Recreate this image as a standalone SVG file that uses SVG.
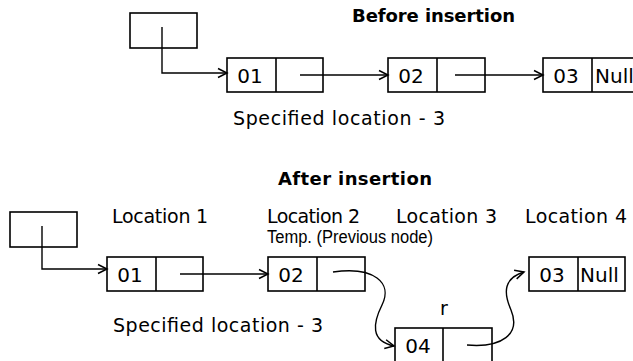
<svg xmlns="http://www.w3.org/2000/svg" width="633" height="361" viewBox="0 0 633 361">
  <style>
    .box { fill: #fff; stroke: #000; stroke-width: 1.6; }
    .div { stroke: #000; stroke-width: 1.6; }
    .con { fill: none; stroke: #000; stroke-width: 1.4; }
    text { font-family: "DejaVu Sans", "Liberation Sans", sans-serif; font-size: 19px; fill: #000; }
    .title { font-weight: bold; font-size: 18px; }
    .nd { font-size: 20px; }
    .mid { text-anchor: middle; }
    .tmp { font-family: "Liberation Sans", "DejaVu Sans", sans-serif; font-size: 18px; }
  </style>
  <defs>
    <marker id="arr" markerUnits="userSpaceOnUse" markerWidth="12" markerHeight="12" refX="10" refY="5" orient="auto" viewBox="0 0 12 10">
      <path d="M1,0.5 L10,5 L1,9.5" fill="none" stroke="#000" stroke-width="1.5"/>
    </marker>
  </defs>
  <rect width="633" height="361" fill="#fff"/>

  <!-- Labels -->
  <text class="title" x="352" y="22" textLength="163">Before insertion</text>
  <text x="233" y="125" textLength="212">Specified location - 3</text>
  <text class="title" x="278" y="185" textLength="154">After insertion</text>
  <text x="112" y="223" textLength="96">Location 1</text>
  <text x="267" y="223" textLength="93">Location 2</text>
  <text x="396" y="223" textLength="101">Location 3</text>
  <text x="525" y="223" textLength="102">Location 4</text>
  <text class="tmp" x="267" y="243" textLength="166" lengthAdjust="spacingAndGlyphs">Temp. (Previous node)</text>
  <text x="113" y="332" textLength="210">Specified location - 3</text>
  <text x="440" y="315">r</text>

  <!-- Before insertion nodes -->
  <g id="head-before">
    <rect class="box" x="130" y="13" width="67" height="35"/>
  </g>
  <g id="node-01-before">
    <rect class="box" x="227" y="58" width="96" height="34"/>
    <line class="div" x1="276" y1="58" x2="276" y2="92"/>
    <text class="nd mid" x="250" y="83">01</text>
  </g>
  <g id="node-02-before">
    <rect class="box" x="388" y="58" width="97" height="34"/>
    <line class="div" x1="437" y1="58" x2="437" y2="92"/>
    <text class="nd mid" x="411" y="83">02</text>
  </g>
  <g id="node-03-before">
    <rect class="box" x="543" y="58" width="100" height="34"/>
    <line class="div" x1="592" y1="58" x2="592" y2="92"/>
    <text class="nd mid" x="566" y="83">03</text>
    <text class="nd" x="595" y="83">Null</text>
  </g>

  <!-- After insertion nodes -->
  <g id="head-after">
    <rect class="box" x="10" y="212" width="67" height="35"/>
  </g>
  <g id="node-01-after">
    <rect class="box" x="107" y="257" width="96" height="34"/>
    <line class="div" x1="156" y1="257" x2="156" y2="291"/>
    <text class="nd mid" x="130" y="282">01</text>
  </g>
  <g id="node-02-after">
    <rect class="box" x="268" y="257" width="97" height="34"/>
    <line class="div" x1="317" y1="257" x2="317" y2="291"/>
    <text class="nd mid" x="291" y="282">02</text>
  </g>
  <g id="node-04-after">
    <rect class="box" x="395" y="328" width="97" height="40"/>
    <line class="div" x1="443" y1="328" x2="443" y2="368"/>
    <text class="nd mid" x="418" y="353">04</text>
  </g>
  <g id="node-03-after">
    <rect class="box" x="529" y="257" width="96" height="34"/>
    <line class="div" x1="578" y1="257" x2="578" y2="291"/>
    <text class="nd mid" x="552" y="282">03</text>
    <text class="nd" x="580" y="282">Null</text>
  </g>

  <!-- Connectors -->
  <g id="connectors">
    <path class="con" d="M162,27 V73 H227" marker-end="url(#arr)"/>
    <path class="con" d="M300,75 H388" marker-end="url(#arr)"/>
    <path class="con" d="M455,75 H543" marker-end="url(#arr)"/>
    <path class="con" d="M42,226 V269 H107" marker-end="url(#arr)"/>
    <path class="con" d="M180,274 H268" marker-end="url(#arr)"/>
    <path class="con" d="M333,272 C374,266 393,283 382,305 C373,323 370,341 394,346" marker-end="url(#arr)"/>
    <path class="con" d="M467,345 C502,348 521,334 511,310 C503,292 504,278 524,272" marker-end="url(#arr)"/>
  </g>
</svg>
